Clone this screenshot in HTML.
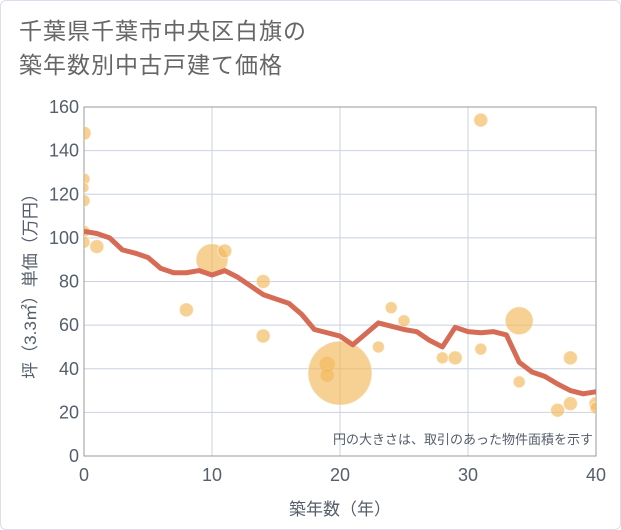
<!DOCTYPE html>
<html><head><meta charset="utf-8"><style>
body{margin:0;background:#fff;}
#wrap{position:relative;width:619px;height:528px;border:1px solid #dde;border-radius:6px;background:#fff;overflow:hidden;font-family:"Liberation Sans","Noto Sans CJK JP",sans-serif;}
#title{position:absolute;left:18px;top:13px;font-size:23px;line-height:34px;color:#666;letter-spacing:1px;}
</style></head><body>
<div id="wrap">
<div id="title">千葉県千葉市中央区白旗の<br>築年数別中古戸建て価格</div>
<svg id="chart" width="621" height="530" style="position:absolute;left:-1px;top:-1px"></svg>
</div>
<script>
const xTicks=[0,10,20,30,40];
const yTicks=[0,20,40,60,80,100,120,140,160];
const lineYears=[0,1,2,3,4,5,6,7,8,9,10,11,12,13,14,15,16,17,18,19,20,21,22,23,24,25,26,27,28,29,30,31,32,33,34,35,36,37,38,39,40];
const lineValues=[103,102,100,94.5,93,91,86,84,84,85,83,85,82,78,74,72,70,65,58,56.5,55,51,56,61,59.5,58,57,53,50,59,57,56.5,57,55.5,43,38.5,36.5,33,30,28.5,29.5];
const bubbleYears=[0,0,0,0,0,0,1,8,10,11,14,14,19,19,20,23,24,25,28,29,31,31,34,34,37,38,38,40,40];
const bubbleValues=[148,127,123,117,103,98,96,67,90,94,80,55,42,37,38,50,68,62,45,45,154,49,62,34,21,45,24,24,22];
const bubbleSizes=[7,6,5,6,6,6,7,7,16,7,7,7,8,7,32,6,6,6,6,7,7,6,14,6,7,7,7,7,6];
const NS='http://www.w3.org/2000/svg';
const svg=document.getElementById('chart');
const X0=84,X1=596,Y0=456,Y1=107;
const xs=v=>X0+(v-0)/40*(X1-X0);
const ys=v=>Y0-v/160*(Y0-Y1);
function mk(t,a,p){const e=document.createElementNS(NS,t);for(const k in a)e.setAttribute(k,a[k]);(p||svg).appendChild(e);return e;}
const clip=mk('clipPath',{id:'pc'});mk('rect',{x:X0,y:Y1,width:X1-X0,height:Y0-Y1},clip);
yTicks.forEach(v=>{const l=mk('line',{x1:X0,x2:X1,y1:ys(v),y2:ys(v),stroke:'#c8d2e0','stroke-width':1});

const t=mk('text',{x:X0-5,y:ys(v)+6,'text-anchor':'end','font-size':18,fill:'#555e6b'});t.textContent=v;
});
xTicks.forEach(v=>{const l=mk('line',{x1:xs(v),x2:xs(v),y1:Y1,y2:Y0,stroke:'#c8d2e0','stroke-width':1});

const t=mk('text',{x:xs(v),y:Y0+25,'text-anchor':'middle','font-size':18,fill:'#555e6b'});t.textContent=v;
});
const fr=mk('rect',{x:X0,y:Y1,width:X1-X0,height:Y0-Y1,fill:'none',stroke:'#999','stroke-width':1});

const g=mk('g',{'clip-path':'url(#pc)'});
bubbleYears.forEach((yr,i)=>{const c=mk('circle',{cx:xs(yr),cy:ys(bubbleValues[i]),r:bubbleSizes[i],fill:'#f2b85a','fill-opacity':0.65,stroke:'#fff','stroke-opacity':0.5},g);
});
const pl=mk('polyline',{points:lineYears.map((y,i)=>xs(y)+','+ys(lineValues[i])).join(' '),fill:'none',stroke:'#d66c55','stroke-width':5,'stroke-linejoin':'round'},g);

const note=mk('text',{x:593,y:444,'text-anchor':'end','font-size':13,fill:'#555e6b'});note.textContent='円の大きさは、取引のあった物件面積を示す';

const xt=mk('text',{x:340,y:515,'text-anchor':'middle','font-size':17,fill:'#555e6b'});xt.textContent='築年数（年）';

const yt=mk('text',{x:0,y:0,'text-anchor':'middle','font-size':17,fill:'#555e6b',transform:'translate(36,282) rotate(-90)'});yt.textContent='坪（3.3㎡）単価（万円）';

</script>
</body></html>
